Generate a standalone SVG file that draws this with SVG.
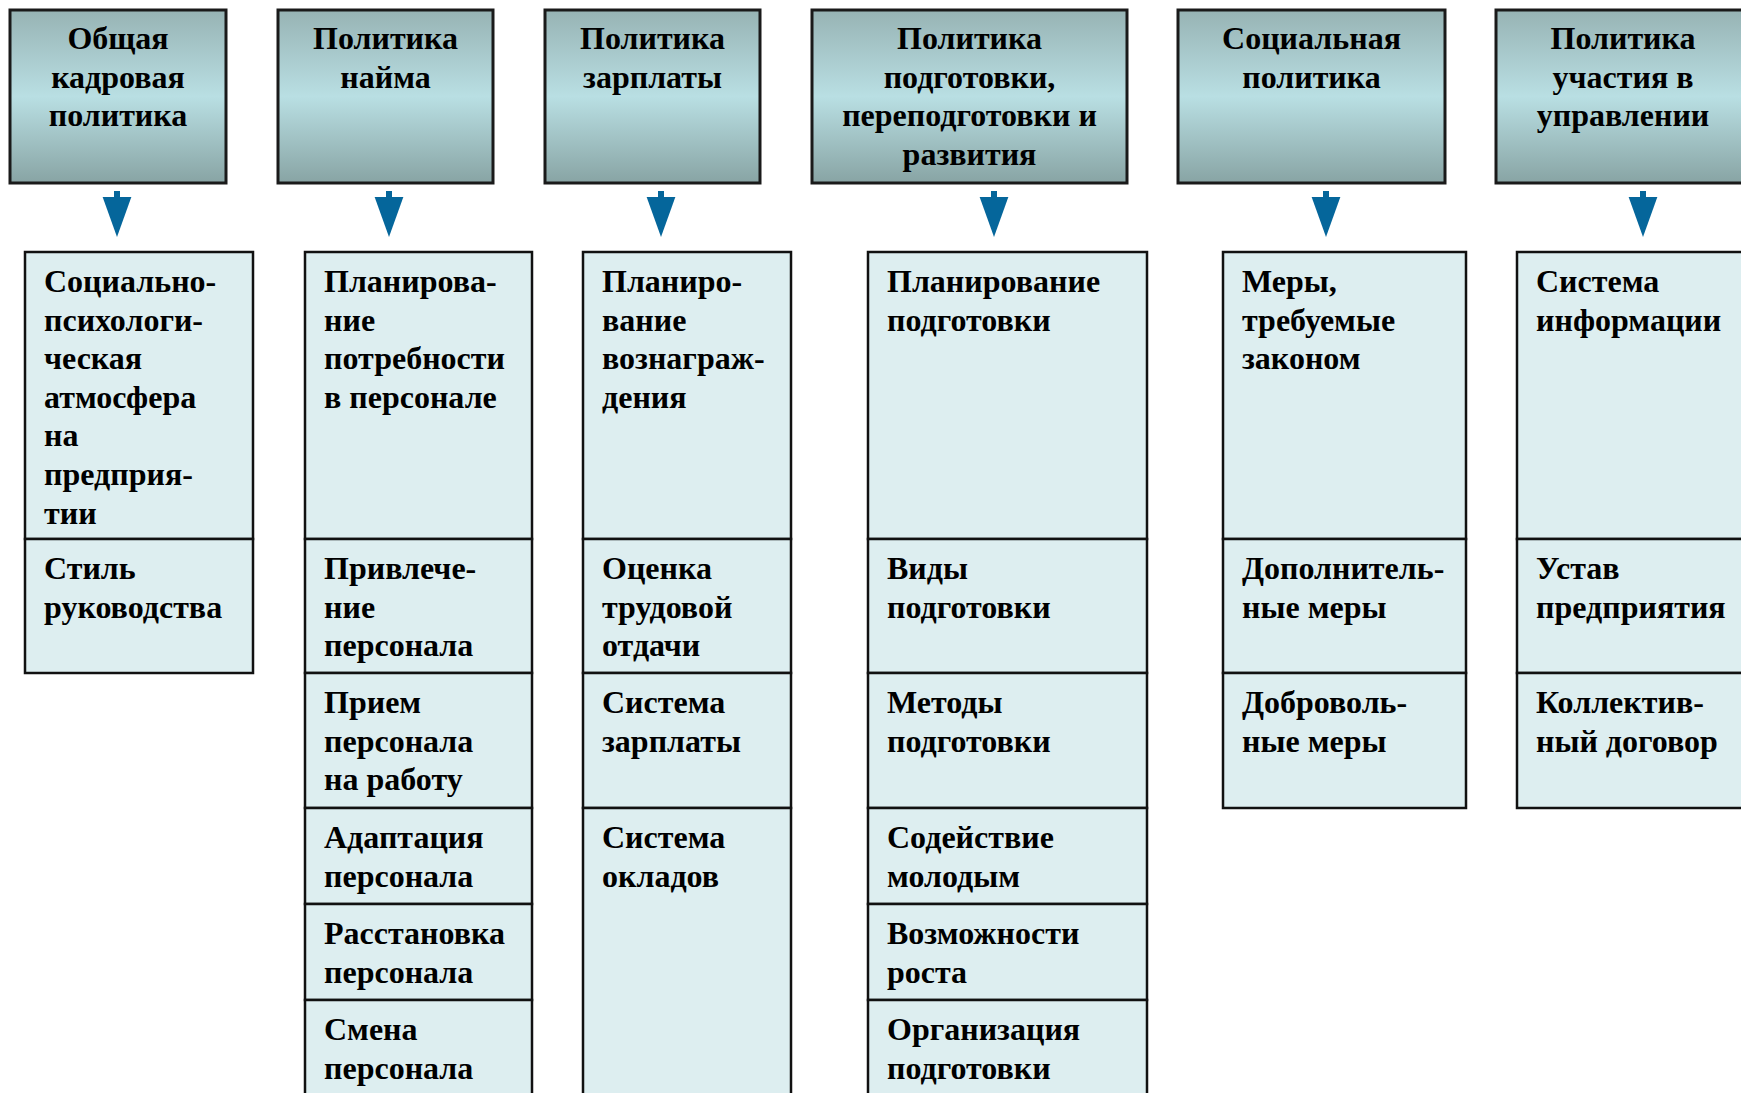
<svg xmlns="http://www.w3.org/2000/svg" width="1741" height="1093" viewBox="0 0 1741 1093">
<defs>
<linearGradient id="hg" x1="0" y1="0" x2="0" y2="1">
<stop offset="0" stop-color="#97b3b4"/>
<stop offset="0.5" stop-color="#b9dfe3"/>
<stop offset="1" stop-color="#88a4a4"/>
</linearGradient>
<marker id="ah" markerUnits="userSpaceOnUse" markerWidth="40" markerHeight="30" viewBox="0 -14 39 28" refX="0" refY="0" orient="auto" overflow="visible">
<path d="M0,-14 L39,0 L0,14 Z" fill="#05669b"/>
</marker>
</defs>
<style>
.hdr rect{fill:url(#hg);stroke:#1a1a1a;stroke-width:3}
.cell rect{fill:#ddeef0;stroke:#111;stroke-width:2.5}
text{font-family:"Liberation Serif","Times New Roman",serif;font-weight:bold;font-size:32px;fill:#000}
.hdr text{text-anchor:middle;transform:translateY(1px)}
.cell text{transform:translateY(2px)}
.conn line{stroke:#05669b;stroke-width:6}
</style>
<rect width="1741" height="1093" fill="#fff"/>

<g id="headers">
<g id="h1" class="hdr"><rect x="10" y="10" width="216" height="173"/>
<text><tspan x="118" y="48">Общая</tspan><tspan x="118" y="86.6">кадровая</tspan><tspan x="118" y="125.2">политика</tspan></text></g>
<g id="h2" class="hdr"><rect x="278" y="10" width="215" height="173"/>
<text><tspan x="385.5" y="48">Политика</tspan><tspan x="385.5" y="86.6">найма</tspan></text></g>
<g id="h3" class="hdr"><rect x="545" y="10" width="215" height="173"/>
<text><tspan x="652.5" y="48">Политика</tspan><tspan x="652.5" y="86.6">зарплаты</tspan></text></g>
<g id="h4" class="hdr"><rect x="812" y="10" width="315" height="173"/>
<text><tspan x="969.5" y="48">Политика</tspan><tspan x="969.5" y="86.6">подготовки,</tspan><tspan x="969.5" y="125.2">переподготовки и</tspan><tspan x="969.5" y="163.8">развития</tspan></text></g>
<g id="h5" class="hdr"><rect x="1178" y="10" width="267" height="173"/>
<text><tspan x="1311.5" y="48">Социальная</tspan><tspan x="1311.5" y="86.6">политика</tspan></text></g>
<g id="h6" class="hdr"><rect x="1496" y="10" width="260" height="173"/>
<text><tspan x="1623" y="48">Политика</tspan><tspan x="1623" y="86.6">участия в</tspan><tspan x="1623" y="125.2">управлении</tspan></text></g>
</g>

<g id="connectors" class="conn">
<line x1="117" y1="191" x2="117" y2="197" marker-end="url(#ah)"/>
<line x1="389" y1="191" x2="389" y2="197" marker-end="url(#ah)"/>
<line x1="661" y1="191" x2="661" y2="197" marker-end="url(#ah)"/>
<line x1="994" y1="191" x2="994" y2="197" marker-end="url(#ah)"/>
<line x1="1326" y1="191" x2="1326" y2="197" marker-end="url(#ah)"/>
<line x1="1643" y1="191" x2="1643" y2="197" marker-end="url(#ah)"/>
</g>

<g id="col1">
<g id="c1r1" class="cell"><rect x="25" y="252" width="228" height="287"/>
<text><tspan x="44" y="290">Социально-</tspan><tspan x="44" y="328.6">психологи-</tspan><tspan x="44" y="367.2">ческая</tspan><tspan x="44" y="405.8">атмосфера</tspan><tspan x="44" y="444.4">на</tspan><tspan x="44" y="483">предприя-</tspan><tspan x="44" y="521.6">тии</tspan></text></g>
<g id="c1r2" class="cell"><rect x="25" y="539" width="228" height="134"/>
<text><tspan x="44" y="577">Стиль</tspan><tspan x="44" y="615.6">руководства</tspan></text></g>
</g>

<g id="col2">
<g id="c2r1" class="cell"><rect x="305" y="252" width="227" height="287"/>
<text><tspan x="324" y="290">Планирова-</tspan><tspan x="324" y="328.6">ние</tspan><tspan x="324" y="367.2">потребности</tspan><tspan x="324" y="405.8">в персонале</tspan></text></g>
<g id="c2r2" class="cell"><rect x="305" y="539" width="227" height="134"/>
<text><tspan x="324" y="577">Привлече-</tspan><tspan x="324" y="615.6">ние</tspan><tspan x="324" y="654.2">персонала</tspan></text></g>
<g id="c2r3" class="cell"><rect x="305" y="673" width="227" height="135"/>
<text><tspan x="324" y="711">Прием</tspan><tspan x="324" y="749.6">персонала</tspan><tspan x="324" y="788.2">на работу</tspan></text></g>
<g id="c2r4" class="cell"><rect x="305" y="808" width="227" height="96"/>
<text><tspan x="324" y="846">Адаптация</tspan><tspan x="324" y="884.6">персонала</tspan></text></g>
<g id="c2r5" class="cell"><rect x="305" y="904" width="227" height="96"/>
<text><tspan x="324" y="942">Расстановка</tspan><tspan x="324" y="980.6">персонала</tspan></text></g>
<g id="c2r6" class="cell"><rect x="305" y="1000" width="227" height="110"/>
<text><tspan x="324" y="1038">Смена</tspan><tspan x="324" y="1076.6">персонала</tspan></text></g>
</g>

<g id="col3">
<g id="c3r1" class="cell"><rect x="583" y="252" width="208" height="287"/>
<text><tspan x="602" y="290">Планиро-</tspan><tspan x="602" y="328.6">вание</tspan><tspan x="602" y="367.2">вознаграж-</tspan><tspan x="602" y="405.8">дения</tspan></text></g>
<g id="c3r2" class="cell"><rect x="583" y="539" width="208" height="134"/>
<text><tspan x="602" y="577">Оценка</tspan><tspan x="602" y="615.6">трудовой</tspan><tspan x="602" y="654.2">отдачи</tspan></text></g>
<g id="c3r3" class="cell"><rect x="583" y="673" width="208" height="135"/>
<text><tspan x="602" y="711">Система</tspan><tspan x="602" y="749.6">зарплаты</tspan></text></g>
<g id="c3r4" class="cell"><rect x="583" y="808" width="208" height="302"/>
<text><tspan x="602" y="846">Система</tspan><tspan x="602" y="884.6">окладов</tspan></text></g>
</g>

<g id="col4">
<g id="c4r1" class="cell"><rect x="868" y="252" width="279" height="287"/>
<text><tspan x="887" y="290">Планирование</tspan><tspan x="887" y="328.6">подготовки</tspan></text></g>
<g id="c4r2" class="cell"><rect x="868" y="539" width="279" height="134"/>
<text><tspan x="887" y="577">Виды</tspan><tspan x="887" y="615.6">подготовки</tspan></text></g>
<g id="c4r3" class="cell"><rect x="868" y="673" width="279" height="135"/>
<text><tspan x="887" y="711">Методы</tspan><tspan x="887" y="749.6">подготовки</tspan></text></g>
<g id="c4r4" class="cell"><rect x="868" y="808" width="279" height="96"/>
<text><tspan x="887" y="846">Содействие</tspan><tspan x="887" y="884.6">молодым</tspan></text></g>
<g id="c4r5" class="cell"><rect x="868" y="904" width="279" height="96"/>
<text><tspan x="887" y="942">Возможности</tspan><tspan x="887" y="980.6">роста</tspan></text></g>
<g id="c4r6" class="cell"><rect x="868" y="1000" width="279" height="110"/>
<text><tspan x="887" y="1038">Организация</tspan><tspan x="887" y="1076.6">подготовки</tspan></text></g>
</g>

<g id="col5">
<g id="c5r1" class="cell"><rect x="1223" y="252" width="243" height="287"/>
<text><tspan x="1242" y="290">Меры,</tspan><tspan x="1242" y="328.6">требуемые</tspan><tspan x="1242" y="367.2">законом</tspan></text></g>
<g id="c5r2" class="cell"><rect x="1223" y="539" width="243" height="134"/>
<text><tspan x="1242" y="577">Дополнитель-</tspan><tspan x="1242" y="615.6">ные меры</tspan></text></g>
<g id="c5r3" class="cell"><rect x="1223" y="673" width="243" height="135"/>
<text><tspan x="1242" y="711">Доброволь-</tspan><tspan x="1242" y="749.6">ные меры</tspan></text></g>
</g>

<g id="col6">
<g id="c6r1" class="cell"><rect x="1517" y="252" width="243" height="287"/>
<text><tspan x="1536" y="290">Система</tspan><tspan x="1536" y="328.6">информации</tspan></text></g>
<g id="c6r2" class="cell"><rect x="1517" y="539" width="243" height="134"/>
<text><tspan x="1536" y="577">Устав</tspan><tspan x="1536" y="615.6">предприятия</tspan></text></g>
<g id="c6r3" class="cell"><rect x="1517" y="673" width="243" height="135"/>
<text><tspan x="1536" y="711">Коллектив-</tspan><tspan x="1536" y="749.6">ный договор</tspan></text></g>
</g>
</svg>
